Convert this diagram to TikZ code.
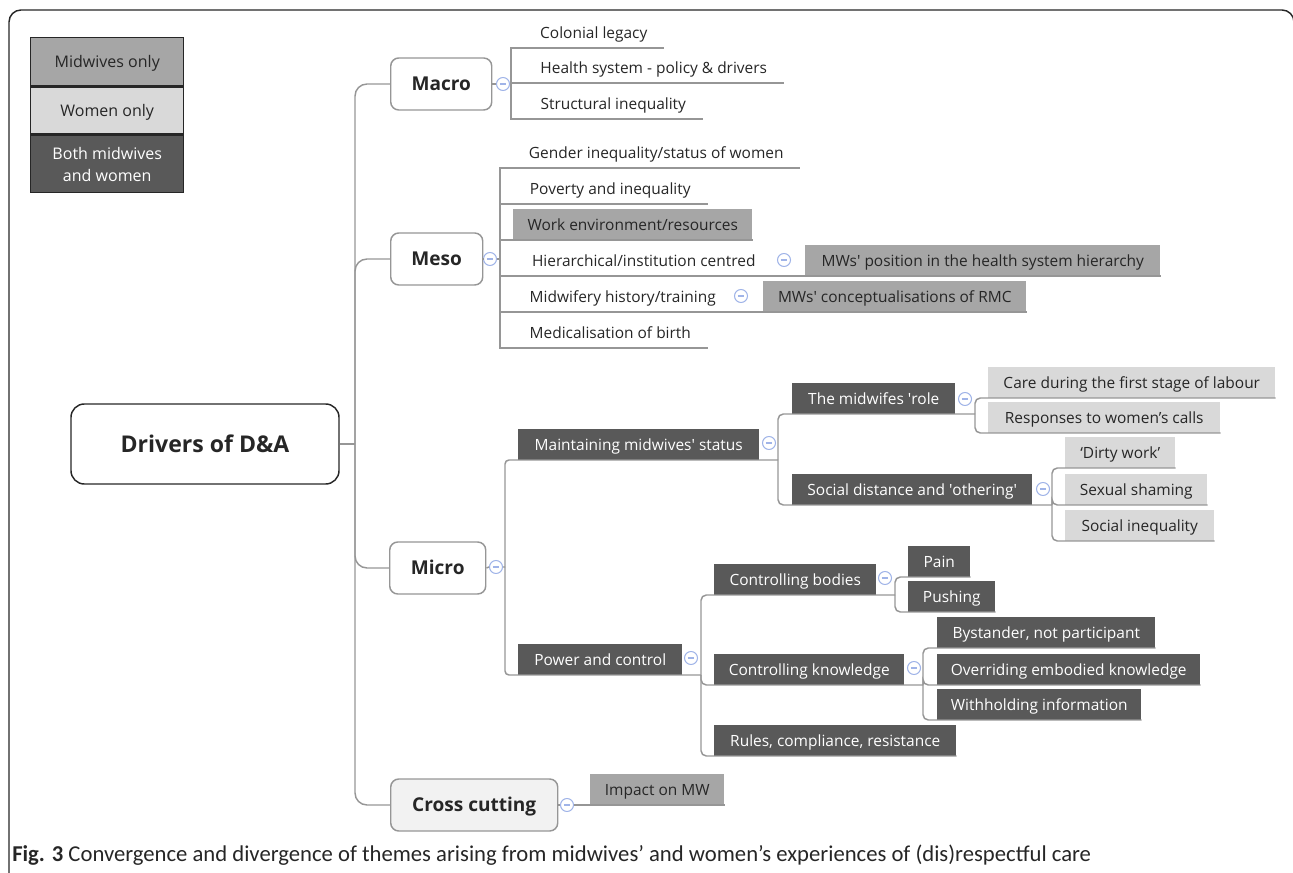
\documentclass[tikz,border=0pt]{standalone}
\usepackage{fontspec}
\setmainfont{Open Sans}
\newfontfamily\capfont{Carlito}

\definecolor{mwgray}{RGB}{166,166,166}
\definecolor{wogray}{RGB}{217,217,217}
\definecolor{bothgray}{RGB}{89,89,89}
\definecolor{linegray}{RGB}{150,150,150}
\definecolor{mkblue}{RGB}{160,180,232}
\definecolor{txt}{RGB}{38,38,38}

\newcommand{\pxu}{0.75pt}
\newcommand{\sq}{\textquotesingle}

\tikzset{
  conn/.style={draw=linegray, line width=1.1pt},
  item/.style={anchor=south west, minimum height=31*\pxu, inner sep=0pt, text=txt,
    text height=9.5pt, text depth=0.5pt, font=\fontsize{11.6}{14}\selectfont},
  leaf/.style={item},
  mwbox/.style={item, fill=mwgray},
  wobox/.style={item, fill=wogray},
  bothbox/.style={item, fill=bothgray, text=white},
  topic/.style={draw=linegray, line width=1.1pt, rounded corners=6pt, fill=white, anchor=west,
    minimum height=52*\pxu, inner sep=0pt, text=txt, text height=11pt, text depth=1pt,
    font=\fontsize{14.3}{16}\selectfont\bfseries},
  marker/.style={circle, draw=mkblue, fill=white, line width=0.8pt, minimum size=13*\pxu, inner sep=0pt,
    path picture={\draw[mkblue, line width=0.8pt] ([xshift=-2.4pt]path picture bounding box.center)
      -- ([xshift=2.4pt]path picture bounding box.center);}},
  legend/.style={draw=black!85, line width=1.1pt, minimum width=153*\pxu, anchor=north west,
    inner sep=0pt, align=center, text=txt, font=\fontsize{12}{16.5}\selectfont}
}

\begin{document}
\begin{tikzpicture}[x=0.75pt, y=-0.75pt]

\useasboundingbox (0,0) rectangle (1293,873);
\clip (0,0) rectangle (1293,873);

% frame
\draw[black!85, line width=1.1pt, rounded corners=9pt] (9,900) -- (9,10) -- (1294,10) -- (1294,900);

% legend
\node[legend, fill=mwgray, minimum height=48*\pxu, text height=10pt, text depth=1pt] (lmw) at (30,37) {Midwives only};
\node[legend, fill=wogray, minimum height=47*\pxu, text height=10pt, text depth=1pt] (lwo) at (lmw.south west) {Women only};
\node[legend, fill=bothgray, text=white, minimum height=57*\pxu] (lboth) at (lwo.south west) {Both midwives\\and women};

% root and main topics
\node[draw=black!85, line width=1.1pt, rounded corners=10pt, minimum width=268*\pxu, minimum height=80*\pxu,
  text=txt, font=\fontsize{17.3}{20}\selectfont\bfseries] (root) at (205,444) {Drivers of D\&A};
\node[topic, minimum width=101*\pxu] (macro) at (390,84) {Macro};
\node[topic, minimum width=92*\pxu] (meso) at (390,259) {Meso};
\node[topic, minimum width=96*\pxu] (micro) at (389,568) {Micro};
\node[topic, minimum width=167*\pxu, fill=gray!10] (cross) at (390,805) {Cross cutting};

% sub topics
\foreach \n/\x/\y/\w/\t in {col/524/48/139/{Colonial legacy}, hsp/524/83/259/{Health system - policy \& drivers},
    sin/524/119/178/{Structural inequality}, gen/513/168/286/{Gender inequality/status of women},
    pov/513/204/194/{Poverty and inequality}, hier/513/276/261/{Hierarchical/institution centred},
    hist/513/312/219/{Midwifery history/training}, med/513/348/194/{Medicalisation of birth}}
  {\node[leaf, minimum width=\w*\pxu] (\n) at (\x,\y) {\t};}
\foreach \n/\x/\y/\w/\t in {work/513/240/239/{Work environment/resources},
    mwpos/805/276/355/{MWs\sq\ position in the health system hierarchy},
    mwcon/763/312/263/{MWs\sq\ conceptualisations of RMC}, imp/590/805/134/{Impact on MW}}
  {\node[mwbox, minimum width=\w*\pxu] (\n) at (\x,\y) {\t};}
\foreach \n/\x/\y/\w/\t in {care/988/398/287/{Care during the first stage of labour},
    resp/988/433/232/{Responses to women’s calls}, dirty/1065/468/110/{‘Dirty work’},
    shame/1065/505/142/{Sexual shaming}, sineq/1065/541/149/{Social inequality}}
  {\node[wobox, minimum width=\w*\pxu] (\n) at (\x,\y) {\t};}
\foreach \n/\x/\y/\w/\t in {main/518/460/241/{Maintaining midwives\sq\ status}, role/792/414/163/{The midwifes \sq role},
    soc/792/505/240/{Social distance and \sq othering\sq}, pow/518/675/164/{Power and control},
    bod/714/595/162/{Controlling bodies}, know/714/685/190/{Controlling knowledge},
    rules/714/756/242/{Rules, compliance, resistance}, pain/908/577/62/{Pain}, push/908/612/87/{Pushing},
    bys/937/648/218/{Bystander, not participant}, over/937/685/263/{Overriding embodied knowledge},
    with/937/720/204/{Withholding information}}
  {\node[bothbox, minimum width=\w*\pxu] (\n) at (\x,\y) {\t};}

% collapse markers
\foreach \n/\x/\y in {mmac/503/84, mmes/490/259, mmic/496/567, mcc/567/805, mhier/784/260, mhist/741/296,
    mmain/769/443, mrole/965/399, msoc/1043/489, mbod/885/578, mpow/691/658, mknow/914/668}
  {\node[marker] (\n) at (\x,\y) {};}

% trunk
\coordinate (tr) at (355,444);
\draw[conn] (root.east) -- (tr);
\foreach \t in {macro,meso,micro,cross} {\draw[conn, rounded corners=9pt] (tr) |- (\t.west);}

% macro
\coordinate (smac) at (511,84);
\draw[conn] (macro.east) -- (mmac.west) (mmac.east) -- (smac);
\foreach \c in {col,hsp,sin} {\draw[conn] (smac) |- (\c.south west) -- (\c.south east);}

% meso
\coordinate (smes) at (500,259);
\draw[conn] (meso.east) -- (mmes.west) (mmes.east) -- (smes);
\foreach \c in {gen,pov,work,med} {\draw[conn] (smes) |- (\c.south west) -- (\c.south east);}
\draw[conn] (smes) |- (hier.south west) -- (mwpos.south east);
\draw[conn] (smes) |- (hist.south west) -- (mwcon.south east);

% micro
\coordinate (smic) at (505,567);
\coordinate (smain) at (778,460);
\coordinate (spow) at (701,675);
\draw[conn] (micro.east) -- (mmic.west) (mmic.east) -- (smic);
\draw[conn, rounded corners=3pt] (smic) |- (main.south west) -- (smain);
\draw[conn, rounded corners=3pt] (smic) |- (pow.south west) -- (spow);

\coordinate (srole) at (975,414);
\coordinate (ssoc) at (1052,505);
\draw[conn, rounded corners=4pt] (smain) |- (role.south west) -- (srole);
\draw[conn, rounded corners=4pt] (smain) |- (soc.south west) -- (ssoc);
\foreach \c in {care,resp} {\draw[conn, rounded corners=4pt] (srole) |- (\c.south west) -- (\c.south east);}
\foreach \c in {dirty,shame,sineq} {\draw[conn, rounded corners=4pt] (ssoc) |- (\c.south west) -- (\c.south east);}

\coordinate (sbod) at (895,595);
\coordinate (sknow) at (923,685);
\draw[conn, rounded corners=4pt] (spow) |- (bod.south west) -- (sbod);
\draw[conn, rounded corners=4pt] (spow) |- (know.south west) -- (sknow);
\draw[conn, rounded corners=4pt] (spow) |- (rules.south west) -- (rules.south east);
\foreach \c in {pain,push} {\draw[conn, rounded corners=4pt] (sbod) |- (\c.south west) -- (\c.south east);}
\foreach \c in {bys,over,with} {\draw[conn, rounded corners=4pt] (sknow) |- (\c.south west) -- (\c.south east);}

% cross cutting
\draw[conn] (cross.east) -- (mcc.west) (mcc.east) -- (imp.south east);

% caption
\node[anchor=base west, inner sep=0pt, text=txt, font=\capfont\fontsize{17}{20}\selectfont] (cap) at (12,861)
  {\textbf{Fig. 3} Convergence and divergence of themes arising from midwives’ and women’s experiences of (dis)respectful care};

\end{tikzpicture}
\end{document}
